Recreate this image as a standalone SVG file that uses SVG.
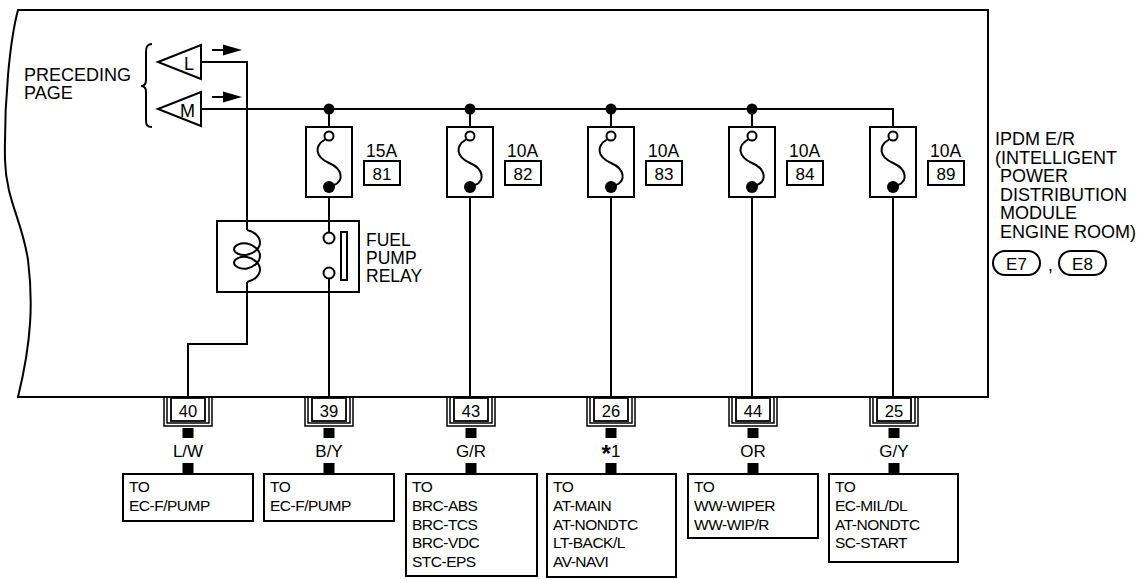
<svg xmlns="http://www.w3.org/2000/svg" xmlns:xlink="http://www.w3.org/1999/xlink" width="1146" height="579" viewBox="0 0 1146 579">
<style>
.ln{stroke:#000;stroke-width:2;fill:none}
.th{stroke:#000;stroke-width:1.5;fill:none}
.bx{stroke:#000;stroke-width:2;fill:#fff}
.blk{fill:#000;stroke:none}
.t{font-family:"Liberation Sans",Arial,Helvetica,sans-serif;fill:#000}
.lab{font-size:17.5px}
.big{font-size:18px}
.num{font-size:17px;text-anchor:middle}
.cn{font-size:16.5px;text-anchor:middle}
.sm{font-size:15.5px;letter-spacing:-0.5px}
</style>
<defs>
<g id="fuseSym">
<line class="ln" x1="0" y1="-18" x2="0" y2="4.5"/>
<rect class="bx" x="-23" y="0" width="46" height="70"/>
<circle cx="0" cy="9" r="4.5" fill="#fff" stroke="#000" stroke-width="2"/>
<path class="ln" d="M-4,12.5 C-15,19 -14,30 0,36 C14,42 15,54 5,58"/>
<circle cx="0" cy="60" r="6" class="blk"/>
</g>
<g id="connSym">
<rect class="bx" x="-17" y="1" width="34" height="23" style="stroke-width:1.8"/>
<path class="th" d="M-21,1 V26 H21 V1"/>
<path class="th" d="M-24,1 V29 H24 V1"/>
<rect class="blk" x="-5.5" y="31" width="11" height="10"/>
<rect class="blk" x="-5.5" y="66" width="11" height="11"/>
</g>
</defs>
<rect width="1146" height="579" fill="#fff"/>

<g id="ipdm-frame">
<path class="ln" d="M18,10 H988 V397 H18 C32,340 33,300 28,260 C22,220 6,200 5,160 C4,100 10,40 18,10 Z"/>
</g>

<g id="connectors">
<path class="ln" d="M201,62 H247 V230"/>
<path class="ln" d="M247,282 V344 H188 V397"/>
<path class="ln" d="M201,109 H893 V127"/>
<line class="ln" x1="329" y1="187" x2="329" y2="232.5"/>
<line class="ln" x1="329" y1="278.5" x2="329" y2="397"/>
<line class="ln" x1="470" y1="187" x2="470" y2="397"/>
<line class="ln" x1="611" y1="187" x2="611" y2="397"/>
<line class="ln" x1="752" y1="187" x2="752" y2="397"/>
<line class="ln" x1="893" y1="187" x2="893" y2="397"/>
<circle class="blk" cx="329" cy="109" r="5.5"/>
<circle class="blk" cx="470" cy="109" r="5.5"/>
<circle class="blk" cx="611" cy="109" r="5.5"/>
<circle class="blk" cx="752" cy="109" r="5.5"/>
<line class="ln" x1="212" y1="50" x2="225" y2="50"/>
<polygon class="blk" points="223,44.5 242,50 223,55.5"/>
<line class="ln" x1="212" y1="97" x2="225" y2="97"/>
<polygon class="blk" points="223,91.5 242,97 223,102.5"/>
</g>

<g id="preceding-page">
<text class="t big" x="24" y="81">PRECEDING</text>
<text class="t big" x="24" y="99">PAGE</text>
<path class="ln" d="M152,44 C147,44 146,47 146,52 L146,80 C146,84 145,86 141,86 C145,86 146,88 146,92 L146,120 C146,125 147,127 152,127"/>
</g>

<g id="conn-L">
<polygon class="bx" points="158,62 201,45 201,79"/>
<text class="t big" x="184" y="69.5">L</text>
</g>
<g id="conn-M">
<polygon class="bx" points="158,109 201,92 201,126"/>
<text class="t big" x="180" y="117">M</text>
</g>

<g id="fuse-81">
<use xlink:href="#fuseSym" x="329" y="127"/>
<text class="t lab" x="366" y="157">15A</text>
<rect class="bx" x="364" y="161" width="36" height="24"/>
<text class="t num" x="382" y="180">81</text>
</g>
<g id="fuse-82">
<use xlink:href="#fuseSym" x="470" y="127"/>
<text class="t lab" x="507" y="157">10A</text>
<rect class="bx" x="505" y="161" width="36" height="24"/>
<text class="t num" x="523" y="180">82</text>
</g>
<g id="fuse-83">
<use xlink:href="#fuseSym" x="611" y="127"/>
<text class="t lab" x="648" y="157">10A</text>
<rect class="bx" x="646" y="161" width="36" height="24"/>
<text class="t num" x="664" y="180">83</text>
</g>
<g id="fuse-84">
<use xlink:href="#fuseSym" x="752" y="127"/>
<text class="t lab" x="789" y="157">10A</text>
<rect class="bx" x="787" y="161" width="36" height="24"/>
<text class="t num" x="805" y="180">84</text>
</g>
<g id="fuse-89">
<use xlink:href="#fuseSym" x="893" y="127"/>
<text class="t lab" x="930" y="157">10A</text>
<rect class="bx" x="928" y="161" width="36" height="24"/>
<text class="t num" x="946" y="180">89</text>
</g>

<g id="fuel-pump-relay">
<rect class="ln" x="217" y="221" width="142" height="71"/>
<line class="ln" x1="247" y1="221" x2="247" y2="230"/>
<line class="ln" x1="247" y1="282" x2="247" y2="292"/>
<path class="ln" d="M247,230 C253.8,231.1 260,236.6 260,242.4 C260,248.2 253.8,253.7 247,254.8 C240.2,255.9 234,252.8 234,249.2 C234,245.6 240.2,242.5 247,243.6 C253.8,244.7 260,250.2 260,256 C260,261.8 253.8,267.3 247,268.4 C240.2,269.5 234,266.4 234,262.8 C234,259.2 240.2,256 247,257.1 C253.8,258.2 260,263.7 260,269.5 C260,275.3 253.8,280.8 247,281.9"/>
<line class="ln" x1="329" y1="221" x2="329" y2="232.5"/>
<line class="ln" x1="329" y1="278.5" x2="329" y2="292"/>
<circle cx="329" cy="238" r="5.5" fill="#fff" stroke="#000" stroke-width="2"/>
<circle cx="329" cy="273" r="5.5" fill="#fff" stroke="#000" stroke-width="2"/>
<rect class="bx" x="341" y="232" width="6" height="48"/>
<text class="t lab" x="366" y="246">FUEL</text>
<text class="t lab" x="366" y="264">PUMP</text>
<text class="t lab" x="366" y="282">RELAY</text>
</g>

<g id="ipdm-label">
<text class="t big" x="995" y="145">IPDM E/R</text>
<text class="t big" x="995" y="163.5">(INTELLIGENT</text>
<text class="t big" x="1000" y="182">POWER</text>
<text class="t big" x="1000" y="200.5">DISTRIBUTION</text>
<text class="t big" x="1000" y="219">MODULE</text>
<text class="t big" x="1000" y="238">ENGINE ROOM)</text>
<rect class="ln" x="993" y="251" width="47" height="24" rx="12"/>
<text class="t num" x="1016.5" y="269.5">E7</text>
<text class="t lab" x="1048" y="271">,</text>
<rect class="ln" x="1059" y="251" width="47" height="24" rx="12"/>
<text class="t num" x="1082.5" y="269.5">E8</text>
</g>

<g id="term-40">
<use xlink:href="#connSym" x="188" y="397"/>
<text class="t cn" x="188" y="416.5">40</text>
<text class="t num" x="188" y="456.5">L/W</text>
</g>
<g id="term-39">
<use xlink:href="#connSym" x="329" y="397"/>
<text class="t cn" x="329" y="416.5">39</text>
<text class="t num" x="329" y="456.5">B/Y</text>
</g>
<g id="term-43">
<use xlink:href="#connSym" x="471" y="397"/>
<text class="t cn" x="471" y="416.5">43</text>
<text class="t num" x="471" y="456.5">G/R</text>
</g>
<g id="term-26">
<use xlink:href="#connSym" x="611" y="397"/>
<text class="t cn" x="611" y="416.5">26</text>
<text class="t num" x="611" y="456.5"><tspan font-size="24" font-weight="bold" dy="5">*</tspan><tspan dy="-5">1</tspan></text>
</g>
<g id="term-44">
<use xlink:href="#connSym" x="753" y="397"/>
<text class="t cn" x="753" y="416.5">44</text>
<text class="t num" x="753" y="456.5">OR</text>
</g>
<g id="term-25">
<use xlink:href="#connSym" x="894" y="397"/>
<text class="t cn" x="894" y="416.5">25</text>
<text class="t num" x="894" y="456.5">G/Y</text>
</g>

<g id="dest-ec-fpump-1">
<rect class="bx" x="123" y="474" width="130" height="47"/>
<text class="t sm" x="129" y="492">TO</text>
<text class="t sm" x="129" y="511">EC-F/PUMP</text>
</g>
<g id="dest-ec-fpump-2">
<rect class="bx" x="264" y="474" width="130" height="47"/>
<text class="t sm" x="270" y="492">TO</text>
<text class="t sm" x="270" y="511">EC-F/PUMP</text>
</g>
<g id="dest-brc">
<rect class="bx" x="406" y="474" width="131" height="102"/>
<text class="t sm" x="412" y="492">TO</text>
<text class="t sm" x="412" y="511">BRC-ABS</text>
<text class="t sm" x="412" y="529.5">BRC-TCS</text>
<text class="t sm" x="412" y="548">BRC-VDC</text>
<text class="t sm" x="412" y="567">STC-EPS</text>
</g>
<g id="dest-at">
<rect class="bx" x="547" y="474" width="129" height="103"/>
<text class="t sm" x="553" y="492">TO</text>
<text class="t sm" x="553" y="511">AT-MAIN</text>
<text class="t sm" x="553" y="529.5">AT-NONDTC</text>
<text class="t sm" x="553" y="548">LT-BACK/L</text>
<text class="t sm" x="553" y="567">AV-NAVI</text>
</g>
<g id="dest-ww">
<rect class="bx" x="688" y="474" width="130" height="64"/>
<text class="t sm" x="694" y="492">TO</text>
<text class="t sm" x="694" y="511">WW-WIPER</text>
<text class="t sm" x="694" y="529.5">WW-WIP/R</text>
</g>
<g id="dest-ec-mil">
<rect class="bx" x="829" y="474" width="129" height="88"/>
<text class="t sm" x="835" y="492">TO</text>
<text class="t sm" x="835" y="511">EC-MIL/DL</text>
<text class="t sm" x="835" y="529.5">AT-NONDTC</text>
<text class="t sm" x="835" y="548">SC-START</text>
</g>
</svg>
